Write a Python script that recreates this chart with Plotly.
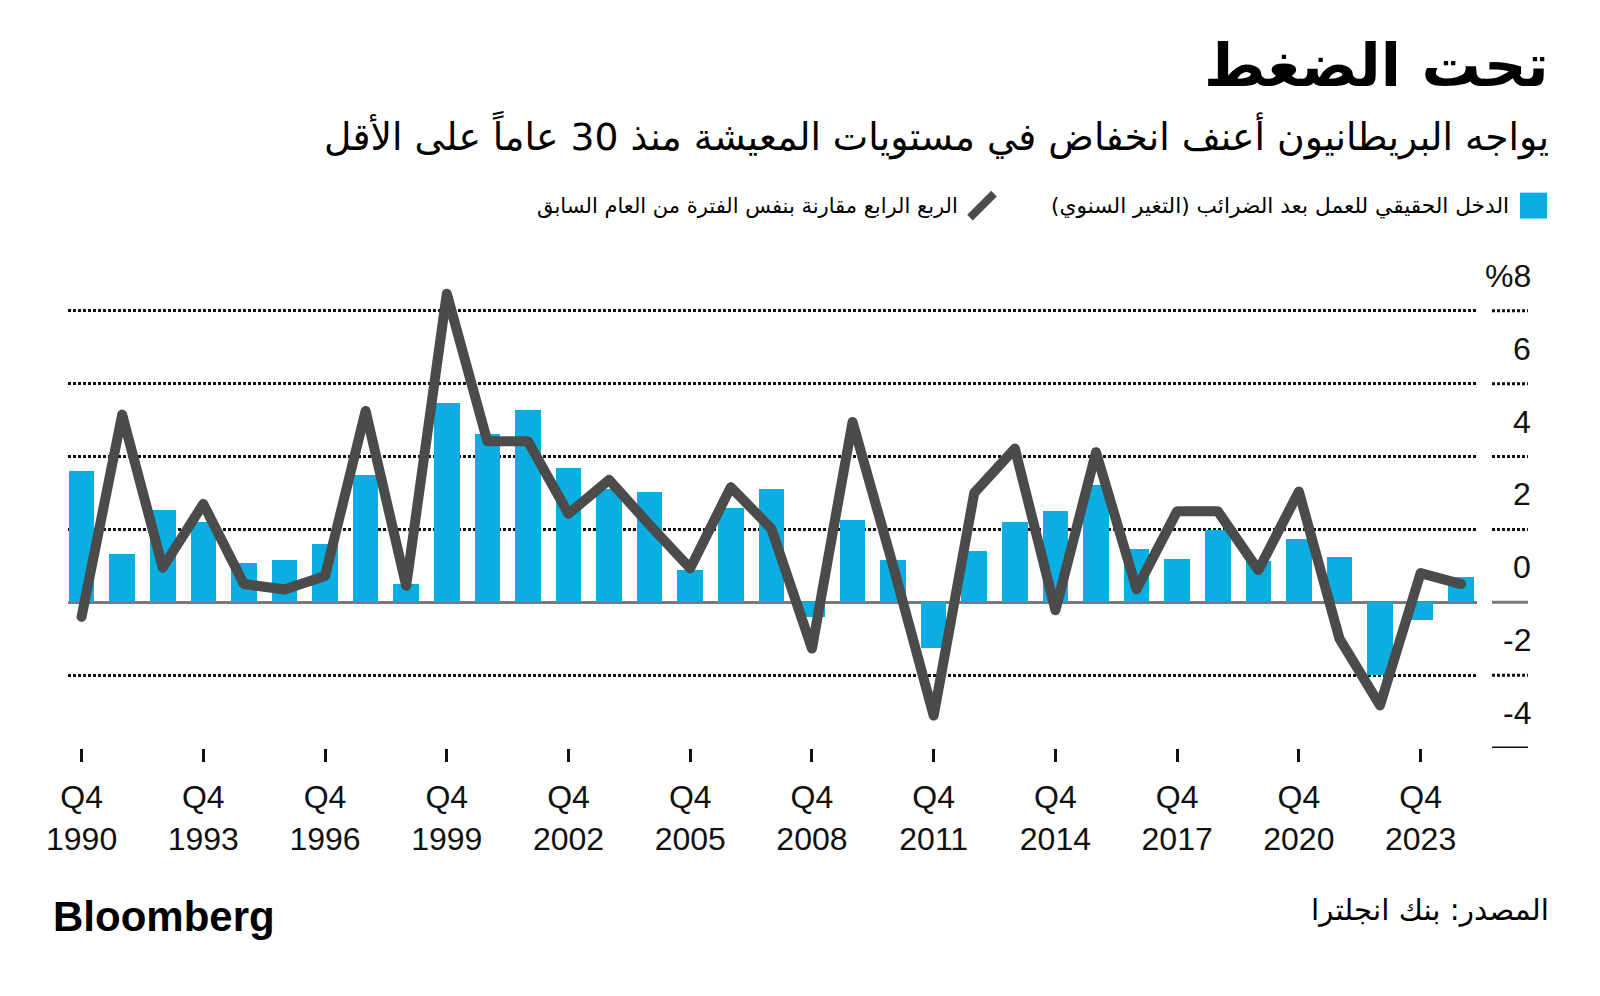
import plotly.graph_objects as go

years = [1990, 1991, 1992, 1993, 1994, 1995, 1996, 1997, 1998, 1999,
         2000, 2001, 2002, 2003, 2004, 2005, 2006, 2007, 2008, 2009,
         2010, 2011, 2012, 2013, 2014, 2015, 2016, 2017, 2018, 2019,
         2020, 2021, 2022, 2023, 2024]
income_annual = [3.6, 1.33, 2.52, 2.19, 1.08, 1.15, 1.59, 3.49, 0.51, 5.46,
                 4.62, 5.27, 3.68, 3.10, 3.03, 0.89, 2.60, 3.10, -0.41, 2.25,
                 1.15, -1.26, 1.40, 2.20, 2.50, 3.21, 1.45, 1.20, 1.98, 1.13,
                 1.74, 1.24, -2.00, -0.48, 0.70]
q4_yoy = [-0.4, 5.15, 0.95, 2.7, 0.5, 0.35, 0.72, 5.25, 0.45, 8.47,
          4.42, 4.42, 2.43, 3.36, 2.12, 0.93, 3.16, 2.02, -1.27, 4.95,
          1.0, -3.11, 3.0, 4.22, -0.22, 4.12, 0.36, 2.5, 2.5, 0.88,
          3.04, -1.0, -2.83, 0.8, 0.5]
tick_years = [1990, 1993, 1996, 1999, 2002, 2005, 2008, 2011, 2014, 2017, 2020, 2023]
tick_text = ["Q4<br>%d" % y for y in tick_years]
y_levels = [8, 6, 4, 2, 0, -2, -4]
y_labels = ["%8", "6", "4", "2", "0", "-2", "-4"]

title = "تحت الضغط"
subtitle = "يواجه البريطانيون أعنف انخفاض في مستويات المعيشة منذ 30 عاماً على الأقل"
leg_bar = "الدخل الحقيقي للعمل بعد الضرائب (التغير السنوي)"
leg_line = "الربع الرابع مقارنة بنفس الفترة من العام السابق"
source = "المصدر: بنك انجلترا"
RLM = "\u200f"

BLUE = "#0aaee0"
GREY = "#4b4b4b"
AR_FONT = "DejaVu Sans"
NUM_FONT = "Liberation Sans"

OFF = 8  # page body margin
W, H = 1600 - OFF, 996 - OFF
# plot area in page pixels
PL, PR, PT, PB = 68, 1477, 277.5, 748.3
L, R, T, B = PL - OFF, PR - OFF, PT - OFF, PB - OFF


def px(x):
    return (x - OFF - L) / (R - L)


def py(y):
    return (B - (y - OFF)) / (B - T)


fig = go.Figure()
fig.add_trace(go.Bar(x=years, y=income_annual, width=0.63, marker=dict(color=BLUE, line=dict(width=0)),
                     showlegend=False))
fig.add_trace(go.Scatter(x=years, y=q4_yoy, mode="lines", line=dict(color=GREY, width=10),
                         showlegend=False))

annotations = []
shapes = []
for v, lab in zip(y_levels, y_labels):
    annotations.append(dict(x=px(1533), xref="paper", y=v, yref="y", yshift=35,
                            text=lab, showarrow=False, xanchor="right", yanchor="middle",
                            font=dict(family=NUM_FONT, size=32, color="#111")))
    if v == 0:
        ln = dict(color="#7a7a7a", width=3)
    elif v == -4:
        ln = dict(color="#111", width=3)
    else:
        ln = dict(color="#111", width=3, dash="3px,2px")
    shapes.append(dict(type="line", xref="paper", yref="y", x0=px(1492), x1=px(1528), y0=v, y1=v, line=ln))

annotations += [
    dict(x=px(1551), y=py(65), xref="paper", yref="paper", text="<b>" + title + "</b>", showarrow=False,
         xanchor="right", yanchor="middle", font=dict(family=AR_FONT, size=59, color="#000")),
    dict(x=px(1551), y=py(134), xref="paper", yref="paper", text=RLM + subtitle + RLM, showarrow=False,
         xanchor="right", yanchor="middle", font=dict(family=AR_FONT, size=37.7, color="#000")),
    dict(x=px(1511), y=py(205), xref="paper", yref="paper", text=RLM + leg_bar + RLM, showarrow=False,
         xanchor="right", yanchor="middle", font=dict(family=AR_FONT, size=21.7, color="#000")),
    dict(x=px(960), y=py(205), xref="paper", yref="paper", text=RLM + leg_line + RLM, showarrow=False,
         xanchor="right", yanchor="middle", font=dict(family=AR_FONT, size=21, color="#000")),
    dict(x=px(1551), y=py(911), xref="paper", yref="paper", text=RLM + source + RLM, showarrow=False,
         xanchor="right", yanchor="middle", font=dict(family=AR_FONT, size=29.4, color="#000")),
    dict(x=px(51), y=py(917), xref="paper", yref="paper", text="<b>Bloomberg</b>", showarrow=False,
         xanchor="left", yanchor="middle", font=dict(family=NUM_FONT, size=42, color="#000")),
]
shapes += [
    dict(type="rect", xref="paper", yref="paper", x0=px(1520), x1=px(1547), y0=py(218), y1=py(192),
         fillcolor=BLUE, line=dict(width=0)),
    dict(type="line", xref="paper", yref="paper", x0=px(970), x1=px(994), y0=py(217), y1=py(193),
         line=dict(color=GREY, width=8)),
]

fig.update_layout(
    width=W, height=H, autosize=False,
    margin=dict(l=L, r=W - R, t=T, b=H - B, pad=0),
    paper_bgcolor="white", plot_bgcolor="white",
    bargap=0,
    annotations=annotations, shapes=shapes,
    xaxis=dict(range=[1989.665, 2024.39], tickvals=tick_years, ticktext=tick_text,
               showgrid=False, zeroline=False, showline=False,
               ticks="outside", ticklen=13, tickwidth=3, tickcolor="#111",
               ticklabelstandoff=8,
               tickfont=dict(family=NUM_FONT, size=32, color="#111")),
    yaxis=dict(range=[-4, 8.9], tickvals=[-2, 2, 4, 6, 8], showticklabels=False,
               showgrid=True, gridcolor="#111", gridwidth=3, griddash="3px,2px",
               zeroline=True, zerolinecolor="#7a7a7a", zerolinewidth=3, showline=False),
)

post = """
document.querySelectorAll('.scatterlayer .js-line').forEach(function(p){
  p.style.strokeLinejoin = 'round'; p.style.strokeLinecap = 'round';
});
"""
fig.write_html("out.html", post_script=post)
